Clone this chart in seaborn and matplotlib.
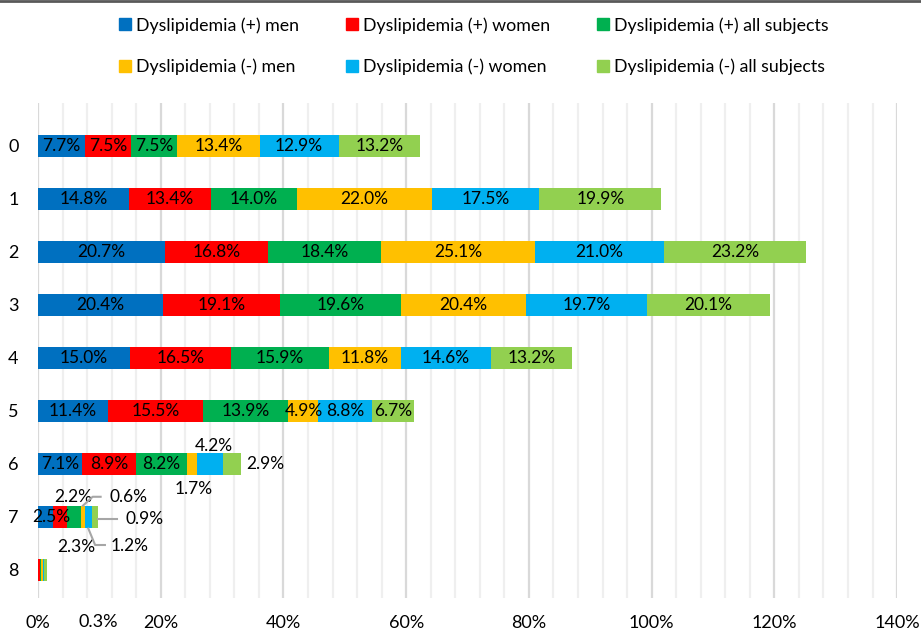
import matplotlib
matplotlib.use("Agg")
import matplotlib.pyplot as plt
from matplotlib.lines import Line2D
from matplotlib.ticker import MultipleLocator, FuncFormatter
import numpy as np
import pandas as pd
import seaborn as sns

# data (percent)
rows = ["0", "1", "2", "3", "4", "5", "6", "7", "8"]
series = ["Dyslipidemia (+) men", "Dyslipidemia (+) women", "Dyslipidemia (+) all subjects",
          "Dyslipidemia (-) men", "Dyslipidemia (-) women", "Dyslipidemia (-) all subjects"]
pos_men = [7.7, 14.8, 20.7, 20.4, 15.0, 11.4, 7.1, 2.5, 0.0]
pos_women = [7.5, 13.4, 16.8, 19.1, 16.5, 15.5, 8.9, 2.2, 0.3]
pos_all = [7.5, 14.0, 18.4, 19.6, 15.9, 13.9, 8.2, 2.3, 0.2]
neg_men = [13.4, 22.0, 25.1, 20.4, 11.8, 4.9, 1.7, 0.6, 0.3]
neg_women = [12.9, 17.5, 21.0, 19.7, 14.6, 8.8, 4.2, 1.2, 0.1]
neg_all = [13.2, 19.9, 23.2, 20.1, 13.2, 6.7, 2.9, 0.9, 0.6]
colors = ["#0070C0", "#FF0000", "#00B050", "#FFC000", "#00B0F0", "#92D050"]

vals = np.array([pos_men, pos_women, pos_all, neg_men, neg_women, neg_all])
cum = vals.cumsum(axis=0)

plt.rcParams["font.family"] = ["Lato", "DejaVu Sans"]
fig = plt.figure(figsize=(9.21, 6.32), dpi=100)
ax = fig.add_axes([0.0413, 0.0538, 0.9327, 0.7832])

# stacked bars: draw cumulative totals from the outermost segment inwards
for i in range(5, -1, -1):
    df = pd.DataFrame({"row": rows, "value": cum[i]})
    sns.barplot(data=df, x="value", y="row", order=rows, orient="h", color=colors[i],
                saturation=1, width=0.43, linewidth=0, ax=ax, zorder=3)

ax.set_xlim(0, 140)
ax.set_ylim(8.53, -0.81)
ax.xaxis.set_major_locator(MultipleLocator(20))
ax.xaxis.set_minor_locator(MultipleLocator(4))
ax.xaxis.set_major_formatter(FuncFormatter(lambda v, p: f"{v:.0f}%"))
ax.grid(axis="x", which="minor", color="#EFEFEF", linewidth=1.6, zorder=0)
ax.grid(axis="x", which="major", color="#D9D9D9", linewidth=1.6, zorder=0)
ax.set_axisbelow(True)
for s in ax.spines.values():
    s.set_visible(False)
tfs = 13
ax.tick_params(axis="both", which="both", length=0, labelsize=tfs, colors="#000000")
ax.tick_params(axis="x", pad=12.5)
ax.tick_params(axis="y", pad=14)
ax.set_xlabel("")
ax.set_ylabel("")

# stray axis label from the original
ax.text(9.8, -0.048, "0.3%", transform=ax.get_xaxis_transform(), fontsize=tfs,
        ha="center", va="center")

# data labels
fs = 12.5
for i in range(6):
    for r in range(6):
        v = vals[i, r]
        ax.text(cum[i, r] - v / 2, r, f"{v:.1f}%", ha="center", va="center", fontsize=fs, zorder=5)

# row 6 small segments
r = 6
for i in range(3):
    ax.text(cum[i, r] - vals[i, r] / 2, r, f"{vals[i, r]:.1f}%", ha="center", va="center", fontsize=fs, zorder=5)
ax.text(25.4, 6.47, "1.7%", ha="center", va="center", fontsize=fs)
ax.text(28.7, 5.66, "4.2%", ha="center", va="center", fontsize=fs)
ax.text(37.0, 6.0, "2.9%", ha="center", va="center", fontsize=fs)

# row 7 labels with leader lines
lc = "#A6A6A6"
ax.text(2.1, 7, "2.5%", ha="center", va="center", fontsize=fs, zorder=5)
ax.text(5.7, 6.62, "2.2%", ha="center", va="center", fontsize=fs)
ax.text(6.2, 7.57, "2.3%", ha="center", va="center", fontsize=fs)
ax.text(14.7, 6.62, "0.6%", ha="center", va="center", fontsize=fs)
ax.plot([10.2, 8.9, 7.3], [6.62, 6.62, 6.79], color=lc, lw=1.5, zorder=4)
ax.text(15.0, 7.55, "1.2%", ha="center", va="center", fontsize=fs)
ax.plot([10.9, 9.3, 8.2], [7.53, 7.53, 7.22], color=lc, lw=1.5, zorder=4)
ax.text(17.3, 7.03, "0.9%", ha="center", va="center", fontsize=fs)
ax.plot([9.8, 12.9], [7.03, 7.03], color=lc, lw=1.5, zorder=4)

# legend, row-major order
handles = [Line2D([], [], marker="s", linestyle="", color=c, markersize=8) for c in colors]
order = [0, 3, 1, 4, 2, 5]
fig.legend([handles[k] for k in order], [series[k] for k in order], ncol=3,
           loc="center", bbox_to_anchor=(0.513, 0.927), frameon=False, fontsize=12.8,
           handletextpad=0.1, columnspacing=2.5, labelspacing=1.4, handlelength=1.0)

fig.add_artist(Line2D([0, 1], [0.999, 0.999], color="#595959", lw=2, transform=fig.transFigure))

fig.savefig("out.png", dpi=100)
